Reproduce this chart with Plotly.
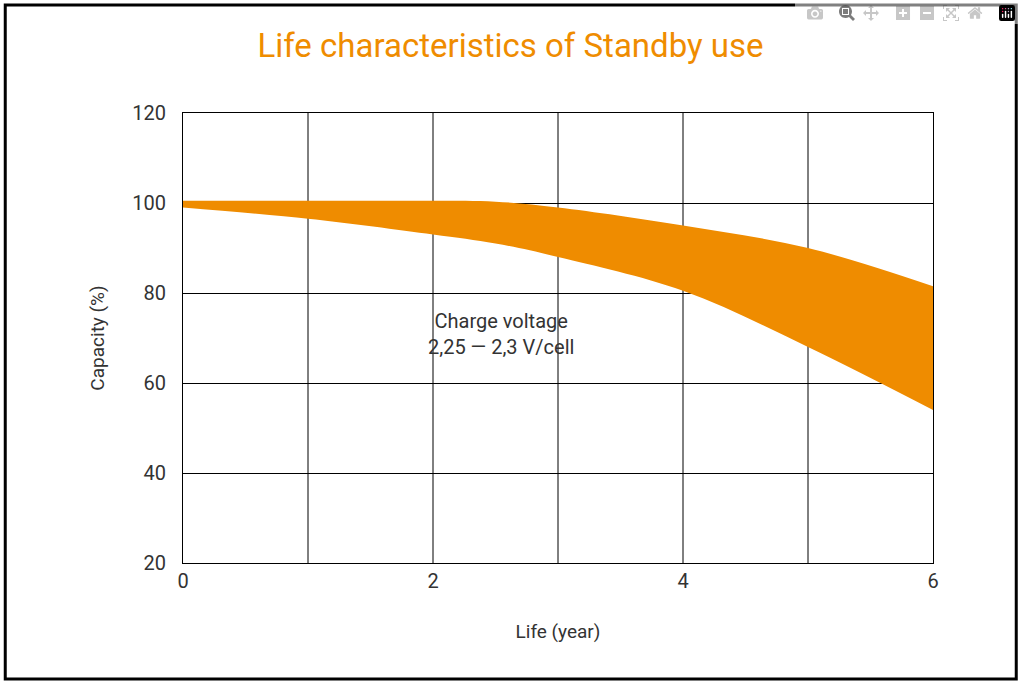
import plotly.graph_objects as go

years = [0, 1, 2, 2.5, 3, 4, 5, 6]
upper = [100.5, 100.5, 100.5, 100.3, 99, 95, 90, 81.5]
lower = [99, 96.5, 93, 91, 88, 80.5, 68, 54]

orange = "#EF8C00"
font = "Roboto"

fig = go.Figure()
fig.add_trace(go.Scatter(x=years, y=upper, mode="lines", line=dict(width=0, color=orange, shape="spline"),
                         showlegend=False, hoverinfo="skip"))
fig.add_trace(go.Scatter(x=years, y=lower, mode="lines", line=dict(width=0, color=orange, shape="spline"),
                         fill="tonexty", fillcolor=orange, showlegend=False, hoverinfo="skip"))

fig.add_annotation(x=2.54, y=71, text="Charge voltage<br>2,25 — 2,3 V/cell", showarrow=False,
                   font=dict(family=font, size=20, color="#333333"))

# outer frame
fig.add_shape(type="rect", xref="paper", yref="paper", x0=-0.237, x1=1.111, y0=-0.258, y1=1.24,
              line=dict(color="black", width=3))

fig.update_layout(
    width=1021, height=684,
    margin=dict(l=183, r=88, t=113, b=121),
    paper_bgcolor="white", plot_bgcolor="white",
    title=dict(text="Life characteristics of Standby use", x=0.5, xanchor="center", y=0.95,
               font=dict(family=font, size=33, color=orange)),
    font=dict(family=font, color="#333333"),
)
fig.update_xaxes(range=[0, 6], tickvals=[0, 2, 4, 6], showgrid=False,
                 showline=True, linecolor="black", linewidth=1, mirror=True, ticks="",
                 tickfont=dict(size=20), title=dict(text="Life (year)", font=dict(size=19), standoff=32))
for xv in [1, 2, 3, 4, 5]:
    fig.add_shape(type="line", x0=xv, x1=xv, y0=20, y1=120, line=dict(color="black", width=1), layer="below")
fig.update_yaxes(range=[20, 120], dtick=20, gridcolor="black", gridwidth=1, showline=True,
                 linecolor="black", linewidth=1, mirror=True, ticks="", zeroline=False,
                 ticklabelstandoff=12,
                 tickfont=dict(size=20), title=dict(text="Capacity (%)", font=dict(size=19), standoff=22))

fig.write_html("out.html", post_script="document.body.style.margin='0';")
